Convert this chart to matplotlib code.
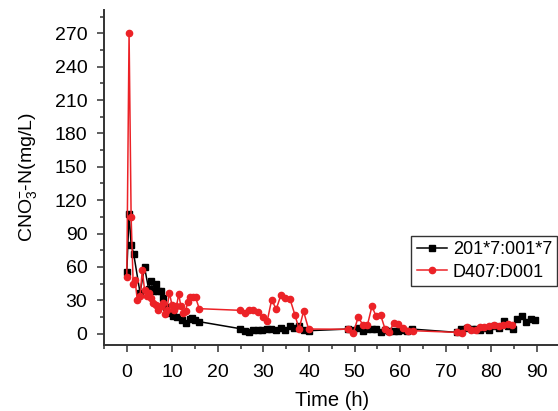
import matplotlib
matplotlib.use("Agg")
import matplotlib.pyplot as plt
from matplotlib.ticker import MultipleLocator

plt.rcParams["font.family"] = ["Liberation Sans", "DejaVu Sans"]
plt.rcParams["mathtext.fontset"] = "custom"
plt.rcParams["mathtext.rm"] = "Liberation Sans"
plt.rcParams["mathtext.it"] = "Liberation Sans:italic"

# 201*7:001*7
t_black = [0, 0.5, 0.95, 1.5, 2.9, 3.9, 4.8, 5.3, 5.85, 6.4, 6.9, 7.5, 7.9, 8.6,
           9.2, 10.2, 11.1, 12.1, 13.0, 13.8, 14.3, 15.0, 15.9,
           24.9, 25.9, 26.8, 27.8, 28.7, 29.7, 30.7, 31.7, 32.7, 33.8, 34.8,
           35.8, 36.8, 37.8, 38.8, 39.9,
           48.6, 49.7, 50.8, 51.8, 52.7, 53.8, 54.8, 55.7, 56.6, 57.6, 58.6,
           59.6, 60.5, 61.6, 62.5,
           72.4, 73.4, 74.6, 75.7, 76.6, 77.5, 78.6, 79.6, 80.6, 81.6, 82.7,
           83.7, 84.8, 85.6, 86.7, 87.6, 88.7, 89.6]
c_black = [55, 108, 80, 72, 37, 59.5, 40, 47, 38, 45, 38, 38.6, 32, 24,
           19, 16, 15, 12.6, 9.6, 13, 14, 12, 10.8,
           4.5, 2, 1.2, 3, 3, 3, 4.2, 4.2, 3, 5.1, 3.5,
           6.6, 5.1, 6.6, 3, 2.7,
           4.2, 3.5, 5, 2.7, 4, 4, 4, 1.2, 3.5, 2.7, 2.7,
           2.7, 3, 2.7, 4.2,
           1.2, 4.2, 5, 4, 4, 3, 5, 3.5, 6.6, 5, 11,
           6.6, 4, 13.2, 16.2, 10.2, 13.2, 12]

# D407:D001
t_red = [0, 0.5, 0.95, 1.4, 1.8, 2.3, 2.9, 3.4, 3.9, 4.4, 4.8, 5.3, 5.8, 6.4,
         6.9, 7.4, 7.9, 8.3, 8.8, 9.35, 9.9, 10.4, 10.9, 11.4, 11.85, 12.4,
         12.9, 13.4, 13.9, 14.55, 15.1, 15.9,
         24.9, 25.9, 26.8, 27.8, 28.7, 29.8, 30.8, 31.8, 32.8, 33.8, 34.8,
         35.8, 36.9, 37.8, 38.8, 39.9,
         48.6, 49.7, 50.8, 51.8, 52.8, 53.8, 54.7, 55.7, 56.7, 57.6, 58.6,
         59.6, 60.7, 61.8, 62.8,
         72.4, 73.5, 74.6, 75.5, 76.6, 77.6, 78.5, 79.6, 80.5, 81.6, 82.6,
         83.7, 84.6]
c_red = [51, 270, 105, 45, 48.5, 30.5, 33.5, 57, 39.5, 33.5, 36.5, 32, 27.5, 26,
         21, 24.5, 28, 18, 21.5, 37, 26, 21, 24.5, 35.6, 25, 19,
         20.6, 28.5, 33, 32.6, 32.6, 22.5,
         21, 19, 21.5, 21, 19.8, 15, 11, 30.5, 22, 34.4, 32,
         31.4, 17, 4.2, 20, 4.2,
         4, 0.5, 15, 8, 7.5, 24.5, 16, 17, 4, 1.5, 9.6,
         9, 5, 2.7, 2.7,
         1.2, 0.3, 6, 3.7, 3.7, 5.7, 5.7, 6.6, 8, 6.6, 8,
         9, 8]

fig = plt.figure(figsize=(5.58, 4.11), dpi=100)
ax = fig.add_axes([0.1864, 0.161, 0.8165, 0.815])

ax.plot(t_black, c_black, color="black", marker="s", markersize=4.2, lw=1.1,
        label="201*7:001*7")
ax.plot(t_red, c_red, color="#ec2227", marker="o", markersize=4.5, lw=1.1,
        label="D407:D001")

ax.set_xlim(-5, 95)
ax.set_ylim(-10, 291)
ax.xaxis.set_major_locator(MultipleLocator(10))
ax.xaxis.set_minor_locator(MultipleLocator(5))
ax.yaxis.set_major_locator(MultipleLocator(30))
ax.yaxis.set_minor_locator(MultipleLocator(15))

for s in ["top", "right"]:
    ax.spines[s].set_visible(False)
for s in ["left", "bottom"]:
    ax.spines[s].set_linewidth(1.4)
    ax.spines[s].set_color("#333333")
ax.tick_params(which="both", direction="out", width=1.1, color="#333333",
               labelsize=14)
ax.tick_params(which="major", length=5)
ax.tick_params(which="minor", length=3)
ax.tick_params(axis="x", which="major", pad=9)
ax.tick_params(axis="y", which="major", pad=7)

ax.set_xlabel("Time (h)", fontsize=14.5, labelpad=7)
ax.set_ylabel(r"CNO$_3^{-}$-N(mg/L)", fontsize=14, labelpad=11)

leg = ax.legend(loc="upper right", bbox_to_anchor=(0.995, 0.325), fontsize=13,
                frameon=True, fancybox=False, edgecolor="black",
                handlelength=1.7, handletextpad=0.3, borderpad=0.3,
                labelspacing=0.3, borderaxespad=0)
leg.get_frame().set_linewidth(1.0)

fig.savefig("out.png", dpi=100)
